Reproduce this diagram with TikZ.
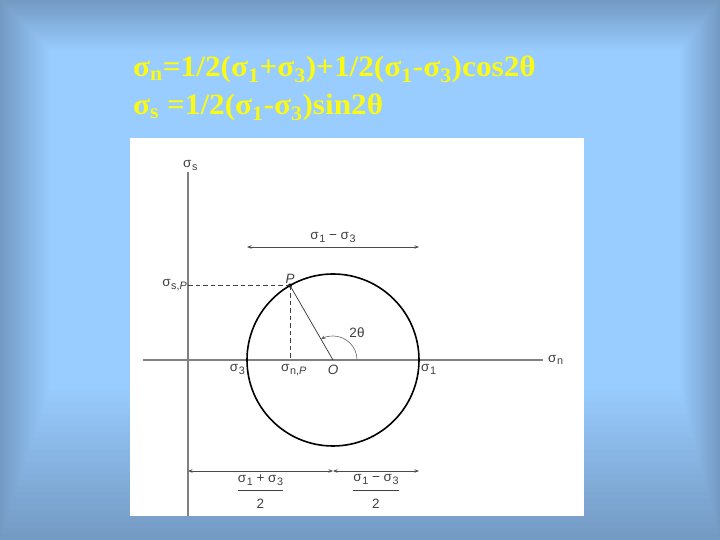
\documentclass[tikz,border=0pt]{standalone}
\usepackage{fontspec}
\setmainfont{Liberation Serif}
\setsansfont{Liberation Sans}
\newfontfamily\titlefont[FakeStretch=1.06]{Liberation Serif}
\usetikzlibrary{arrows.meta, calc, positioning}

\definecolor{slidedark}{RGB}{115,154,195}
\definecolor{slidelight}{RGB}{153,204,255}
\definecolor{titleyellow}{RGB}{250,250,20}

\newcommand{\sig}[1]{σ\textsubscript{#1}}
\newcommand{\lsig}[1]{σ\kern0.5pt\raisebox{-0.4ex}{\scalebox{0.8}{#1}}}
\newcommand{\half}[1]{$\displaystyle\frac{\mbox{#1\rule[-7pt]{0pt}{7pt}}}{\mbox{\rule{0pt}{17pt}2}}$}

\begin{document}
\begin{tikzpicture}[
    x=1pt, y=1pt,
    >={Stealth[length=4.5pt,width=3.5pt]},
    axis/.style={draw=black!50, line width=1.5pt},
    mohr/.style={draw=black, line width=1.6pt},
    guide/.style={draw=black!75, dash pattern=on 4.5pt off 3pt, line width=0.7pt},
    dim/.style={draw=black!70, line width=0.8pt},
    lbl/.style={font=\sffamily\fontsize{13.5}{16}\selectfont, text=black!75, inner sep=1pt},
    title/.style={font=\titlefont\bfseries\fontsize{29.5}{34}\selectfont, text=titleyellow, anchor=base west, inner sep=0pt}
]
    \useasboundingbox (0,0) rectangle (720,540);

    % Slide background
    \fill[slidedark] (0,0) rectangle (720,540);
    \foreach \i in {1,...,25} {
        \pgfmathsetmacro\mix{4*\i}
        \fill[slidelight!\mix!slidedark] (2*\i, 6*\i) rectangle (720-1.6*\i, 540-2*\i);
    }
    \fill[white] (130,24) rectangle (584,402);

    % Formulas
    \node (eqn) [title] at (133,463) {\sig{n}=1/2(\sig{1}+\sig{3})+1/2(\sig{1}-\sig{3})cos2θ};
    \node (eqs) [title] at (133,425) {\sig{s} =1/2(\sig{1}-\sig{3})sin2θ};

    % Key points
    \coordinate (orig) at (188,180);
    \coordinate (O) at (333,180);
    \coordinate (P) at ($(O)+(120:86)$);
    \coordinate (s3) at ($(O)+(180:86)$);
    \coordinate (s1) at ($(O)+(0:86)$);

    % Axes
    \draw[axis] (188,24) -- (188,368) coordinate (sstop);
    \draw[axis] (143,180) -- (543,180) coordinate (snend);
    \node (sslbl) [lbl, above right=0pt and -6pt] at (sstop) {\lsig{s}};
    \node (snlbl) [lbl, right=4pt] at (snend) {\lsig{n}};

    % Mohr circle
    \draw[mohr] (O) circle[radius=86];
    \fill (P) circle[radius=2];
    \draw[guide] (P) -- (P -| orig);
    \draw[guide] (P) -- (P |- orig);
    \draw[black!80, line width=0.7pt] (P) -- (O);
    \draw[->, black!60, line width=0.6pt] ($(O)+(0:24)$) arc[start angle=0, end angle=120, radius=24];

    % Labels
    \node (Plbl) [lbl, above=1pt] at (P) {\textit{P}};
    \node (sPlbl) [lbl, left=0pt] at (P -| orig) {\lsig{s,\textit{P}}};
    \node (nPlbl) [lbl, below right=3pt and -10pt] at (P |- orig) {\lsig{n,\textit{P}}};
    \node (Olbl) [lbl, below=4pt] at (O) {\textit{O}};
    \node (angle) [lbl] at (357,207) {2θ};
    \node (s3lbl) [lbl, below left=3pt and 1pt] at (s3) {\lsig{3}};
    \node (s1lbl) [lbl, below right=3pt and 1pt] at (s1) {\lsig{1}};

    % Dimensions
    \draw[dim, <->] (s3 |- 0,293) -- (s1 |- 0,293) node (topdim) [lbl, midway, above=3pt] {\lsig{1} − \lsig{3}};
    \draw[dim, <->] (orig |- 0,69) -- (O |- 0,69) node (halfsum) [lbl, midway, below=2pt] {\half{\lsig{1} + \lsig{3}}};
    \draw[dim, <->] (O |- 0,69) -- (s1 |- 0,69) node (halfdiff) [lbl, midway, below=2pt] {\half{\lsig{1} − \lsig{3}}};
\end{tikzpicture}
\end{document}
